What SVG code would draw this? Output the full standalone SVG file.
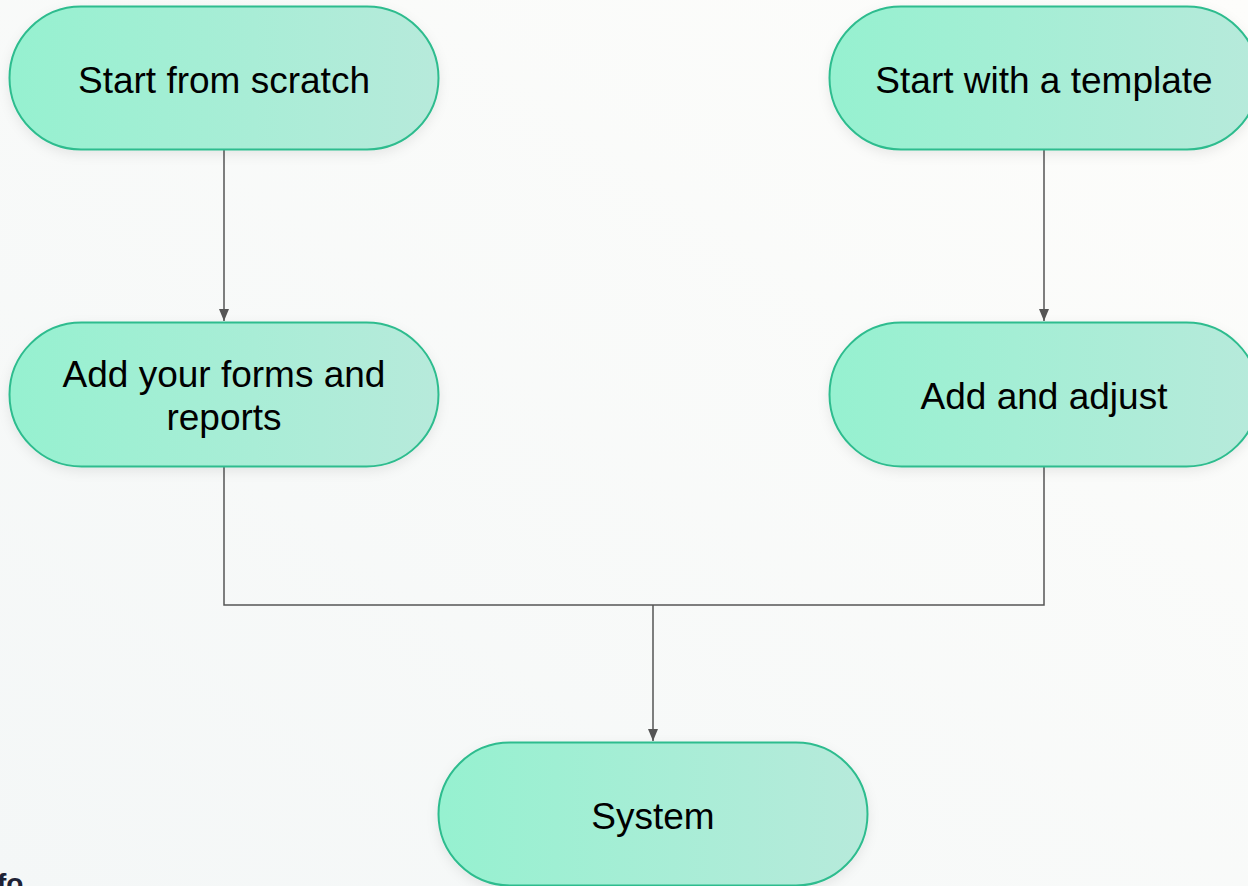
<svg xmlns="http://www.w3.org/2000/svg" width="1248" height="886" viewBox="0 0 1248 886">
  <defs>
    <linearGradient id="bg" x1="1" y1="0" x2="0" y2="1">
      <stop offset="0" stop-color="#fdfdfb"/>
      <stop offset="1" stop-color="#f4f7f7"/>
    </linearGradient>
    <linearGradient id="nodeFill" x1="0" y1="0" x2="1" y2="0">
      <stop offset="0" stop-color="#96f1d0"/>
      <stop offset="1" stop-color="#b7eadb"/>
    </linearGradient>
    <filter id="shadow" x="-10%" y="-20%" width="120%" height="150%">
      <feDropShadow dx="0" dy="4" stdDeviation="6" flood-color="#000" flood-opacity="0.08"/>
    </filter>
    <marker id="arrow" viewBox="0 0 12 10" refX="12" refY="5" markerWidth="12" markerHeight="10" markerUnits="userSpaceOnUse" orient="auto">
      <path d="M0,0 L12,5 L0,10 Z" fill="#555"/>
    </marker>
  </defs>
  <style>
    .node rect { fill: url(#nodeFill); stroke: #2dbc8e; stroke-width: 2; filter: url(#shadow); }
    .node text { font-family: "Liberation Sans", Arial, sans-serif; font-size: 37px; fill: #000; text-anchor: middle; }
    .edges path { fill: none; stroke: #555; stroke-width: 1.5; }
  </style>
  <rect x="0" y="0" width="1248" height="886" fill="url(#bg)"/>

  <g id="edges" class="edges">
    <path d="M224,150 V321" marker-end="url(#arrow)"/>
    <path d="M1044,150 V321" marker-end="url(#arrow)"/>
    <path d="M224,467 V605 H1044 V467"/>
    <path d="M653,605 V741" marker-end="url(#arrow)"/>
  </g>

  <g id="node-scratch" class="node">
    <rect x="9.5" y="6.5" width="429" height="143" rx="71.5"/>
    <text x="224" y="92.7">Start from scratch</text>
  </g>
  <g id="node-template" class="node">
    <rect x="829.5" y="6.5" width="429" height="143" rx="71.5"/>
    <text x="1044" y="92.7">Start with a template</text>
  </g>
  <g id="node-forms" class="node">
    <rect x="9.5" y="322.5" width="429" height="144" rx="72"/>
    <text x="224" y="387.3">Add your forms and</text>
    <text x="224" y="430">reports</text>
  </g>
  <g id="node-adjust" class="node">
    <rect x="829.5" y="322.5" width="429" height="144" rx="72"/>
    <text x="1044" y="409">Add and adjust</text>
  </g>
  <g id="node-system" class="node">
    <rect x="438.5" y="742.5" width="429" height="143" rx="71.5"/>
    <text x="653" y="829">System</text>
  </g>

  <text x="-3" y="892.5" font-family="Liberation Sans, Arial, sans-serif" font-size="28" font-weight="bold" fill="#1e2235">fo</text>
</svg>
